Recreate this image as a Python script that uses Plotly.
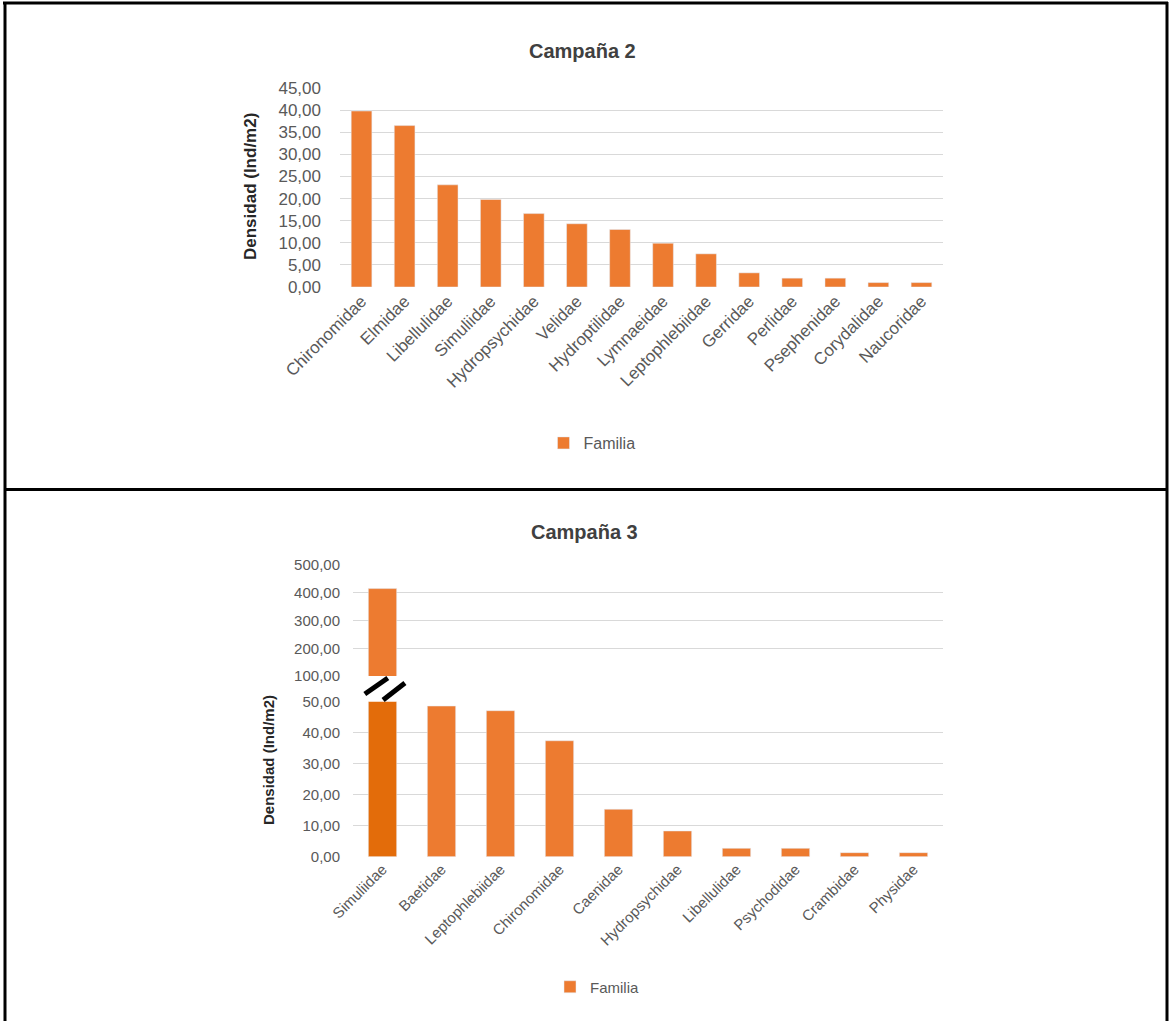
import plotly.graph_objects as go

W, H = 1170, 1021

# Campaña 2: density by family
fam_c2 = ["Chironomidae", "Elmidae", "Libellulidae", "Simuliidae", "Hydropsychidae",
          "Velidae", "Hydroptilidae", "Lymnaeidae", "Leptophlebiidae", "Gerridae",
          "Perlidae", "Psephenidae", "Corydalidae", "Naucoridae"]
dens_c2 = [39.8, 36.5, 23.1, 19.8, 16.6, 14.3, 13.0, 9.9, 7.5, 3.2, 2.0, 2.0, 1.0, 1.0]

# Campaña 3: density by family (first value shown on a broken axis)
fam_c3 = ["Simuliidae", "Baetidae", "Leptophlebiidae", "Chironomidae", "Caenidae",
          "Hydropsychidae", "Libellulidae", "Psychodidae", "Crambidae", "Physidae"]
dens_c3 = [415.0, 48.6, 47.1, 37.4, 15.3, 8.3, 2.7, 2.7, 1.3, 1.3]

ticks_c2 = [0, 5, 10, 15, 20, 25, 30, 35, 40, 45]
ticks_c3_low = [0, 10, 20, 30, 40, 50]
ticks_c3_high = [100, 200, 300, 400, 500]

FONT = "Liberation Sans, Arial, sans-serif"
GREY = "#595959"
GRID = "#D9D9D9"
ORANGE = "#ED7B30"
ORANGE_DARK = "#E36C0A"


def px(x):
    return x / W


def py(y):
    return 1 - y / H


fig = go.Figure()

fig.add_trace(go.Bar(x=fam_c2, y=dens_c2, name="Familia", marker_color=ORANGE,
                     xaxis="x", yaxis="y", legend="legend"))
# upper segment of the broken axis (carries the legend entry)
fig.add_trace(go.Bar(x=fam_c3, y=dens_c3, name="Familia", marker_color=ORANGE,
                     xaxis="x3", yaxis="y2", legend="legend2"))
# lower segment of the broken axis
low_colors = [ORANGE_DARK if v > ticks_c3_low[-1] else ORANGE for v in dens_c3]
fig.add_trace(go.Bar(x=fam_c3, y=dens_c3, name="Familia", marker_color=low_colors,
                     xaxis="x2", yaxis="y3", showlegend=False))

fig.update_layout(
    width=W, height=H, autosize=False,
    margin=dict(l=0, r=0, t=0, b=0, pad=0, autoexpand=False),
    paper_bgcolor="white", plot_bgcolor="white",
    separators=",.",
    bargap=0.52,
    font=dict(family=FONT, color=GREY),
    xaxis=dict(domain=[px(340), px(943)], anchor="y", type="category",
               tickangle=-45, showgrid=False, showline=False, ticks="",
               automargin=False, tickfont=dict(size=17, color=GREY)),
    yaxis=dict(domain=[py(287), py(88)], anchor="x", range=[0, 45],
               tickvals=ticks_c2, tickformat=".2f", showgrid=True, gridcolor=GRID,
               gridwidth=1, zeroline=False, showline=False, ticks="",
               automargin=False, ticklabelstandoff=18,
               tickfont=dict(size=17, color=GREY)),
    xaxis2=dict(domain=[px(353), px(943)], anchor="y3", type="category",
                tickangle=-45, showgrid=False, showline=False, ticks="",
                automargin=False, tickfont=dict(size=15, color=GREY)),
    xaxis3=dict(domain=[px(353), px(943)], anchor="y2", type="category",
                matches="x2", showticklabels=False, showgrid=False,
                showline=False, ticks="", automargin=False),
    yaxis2=dict(domain=[py(676), py(565)], anchor="x3", range=[100, 500],
                tickvals=ticks_c3_high, tickformat=".2f", showgrid=True,
                gridcolor=GRID, zeroline=False, showline=False, ticks="",
                automargin=False, ticklabelstandoff=12,
                tickfont=dict(size=15, color=GREY)),
    yaxis3=dict(domain=[py(856.7), py(701.7)], anchor="x2", range=[0, 50],
                tickvals=ticks_c3_low, tickformat=".2f", showgrid=True,
                gridcolor=GRID, zeroline=False, showline=False, ticks="",
                automargin=False, ticklabelstandoff=12,
                tickfont=dict(size=15, color=GREY)),
    legend=dict(x=px(592), y=py(443), xanchor="center", yanchor="middle",
                orientation="h", font=dict(size=16, color=GREY),
                itemwidth=30, bgcolor="rgba(0,0,0,0)"),
    legend2=dict(x=px(597), y=py(987), xanchor="center", yanchor="middle",
                 orientation="h", font=dict(size=15, color=GREY),
                 itemwidth=30, bgcolor="rgba(0,0,0,0)"),
)

# chart titles and axis titles
titles = [
    ("<b>Campaña 2</b>", 582, 51, 0, 20, "#404040"),
    ("<b>Campaña 3</b>", 584, 532, 0, 20, "#404040"),
    ("<b>Densidad (Ind/m2)</b>", 250, 187, -90, 17, "#262626"),
    ("<b>Densidad (Ind/m2)</b>", 268, 760, -90, 15, "#262626"),
]
for text, tx, ty, ang, size, color in titles:
    fig.add_annotation(text=text, x=px(tx), y=py(ty), xref="paper", yref="paper",
                       xanchor="center", yanchor="middle", textangle=ang,
                       showarrow=False, font=dict(size=size, color=color, family=FONT))

# axis-break marks on the first bar
for x0, x1, y0, y1 in [(-0.30, 0.09, 694, 678), (0.01, 0.38, 700, 683)]:
    fig.add_shape(type="line", xref="x2", yref="paper", x0=x0, x1=x1,
                  y0=py(y0), y1=py(y1), line=dict(color="black", width=5))

# table frame around the two charts
frame = dict(color="black", width=3)
fig.add_shape(type="line", xref="paper", yref="paper", x0=px(3), x1=px(1168),
              y0=py(3), y1=py(3), line=frame)
fig.add_shape(type="line", xref="paper", yref="paper", x0=px(5), x1=px(5),
              y0=py(2), y1=py(1021), line=frame)
fig.add_shape(type="line", xref="paper", yref="paper", x0=px(1167), x1=px(1167),
              y0=py(2), y1=py(1021), line=frame)
fig.add_shape(type="line", xref="paper", yref="paper", x0=px(5), x1=px(1168),
              y0=py(489.5), y1=py(489.5), line=frame)

fig.write_html("out.html")
